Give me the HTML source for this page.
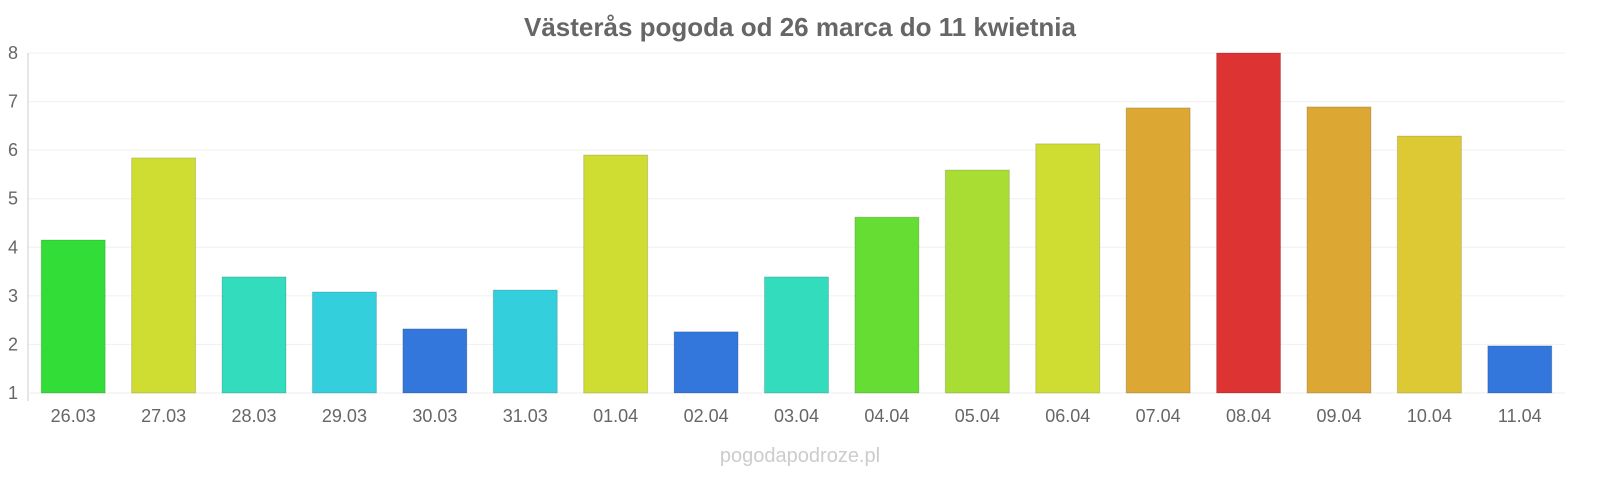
<!DOCTYPE html>
<html><head><meta charset="utf-8"><style>
body{margin:0;background:#fff;font-family:"Liberation Sans",sans-serif;}
svg text{font-family:"Liberation Sans",sans-serif;}
</style></head><body>
<svg id="chart" width="1600" height="480">
<text x="800" y="36" text-anchor="middle" font-size="26" font-weight="bold" fill="#666">Västerås pogoda od 26 marca do 11 kwietnia</text>
<g id="grid"></g><g id="bars"></g><g id="xlabels"></g><g id="ylabels"></g>
<text x="800" y="462" text-anchor="middle" font-size="20" fill="#ccc">pogodapodroze.pl</text>
</svg>
<script>
const categories=["26.03","27.03","28.03","29.03","30.03","31.03","01.04","02.04","03.04","04.04","05.04","06.04","07.04","08.04","09.04","10.04","11.04"];
const values=[4.15,5.84,3.39,3.08,2.32,3.12,5.9,2.26,3.39,4.62,5.59,6.13,6.87,8,6.89,6.29,1.97];
const colors=["#33dd38","#cfdd33","#33dcbc","#33cfdc","#3377dd","#33cfdc","#cfdd33","#3377dd","#33dcbc","#66dd33","#aadd33","#cfdd33","#dca733","#dd3333","#dca733","#dcc933","#3377dd"];
const yTicks=[1,2,3,4,5,6,7,8];
const NS="http://www.w3.org/2000/svg";
const x0=28,x1=1565,yBase=393,yTop=53,yMin=1,yMax=8;
const step=(x1-x0)/categories.length,bw=64;
const y=v=>yBase-(v-yMin)/(yMax-yMin)*(yBase-yTop);
const xc=i=>x0+step*(i+0.5);
function mk(t,a,p){const e=document.createElementNS(NS,t);for(const k in a)e.setAttribute(k,a[k]);document.getElementById(p).appendChild(e);return e;}
yTicks.forEach(t=>{
 const l=mk("line",{x1:x0,x2:x1,y1:y(t),y2:y(t),stroke:"#f0f0f0"},"grid");
 
 
 const tx=mk("text",{x:18,y:y(t)+6,"text-anchor":"end","font-size":18,fill:"#666"},"ylabels");
 tx.textContent=t;
 
 
});
const ax=mk("line",{x1:x0,x2:x0,y1:yTop,y2:yBase+8,stroke:"#ccc"},"grid");


const bx=mk("line",{x1:x0,x2:x1,y1:yBase,y2:yBase,stroke:"#eee"},"grid");


categories.forEach((c,i)=>{
 const r=mk("rect",{x:xc(i)-bw/2,y:y(values[i]),width:bw,height:yBase-y(values[i]),fill:colors[i],stroke:"rgba(0,0,0,0.15)","stroke-width":1},"bars");
 
 
 const t=mk("text",{x:xc(i),y:422,"text-anchor":"middle","font-size":18,fill:"#666"},"xlabels");
 t.textContent=c;
 
 
});
</script>
</body></html>
